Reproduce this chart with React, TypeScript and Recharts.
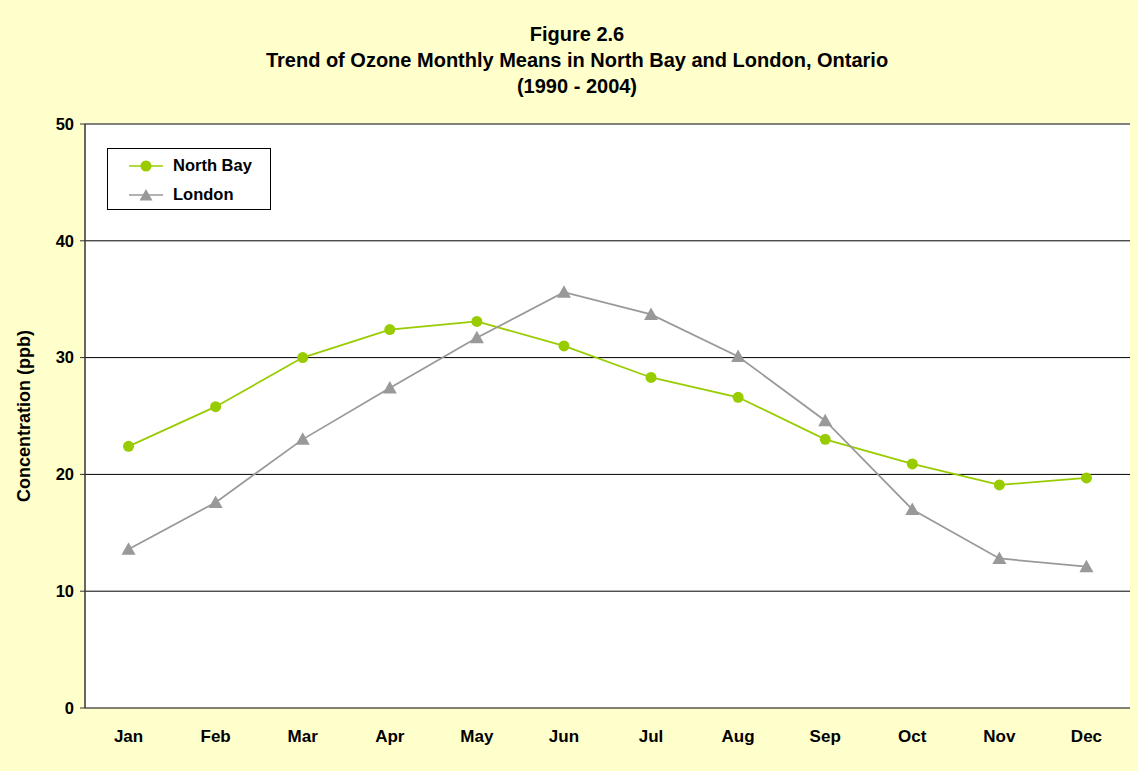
import React from 'react'
import {
  LineChart, Line, XAxis, YAxis, CartesianGrid, ReferenceLine,
} from 'recharts'

const months = ['Jan', 'Feb', 'Mar', 'Apr', 'May', 'Jun', 'Jul', 'Aug', 'Sep', 'Oct', 'Nov', 'Dec']
const northBay = [22.4, 25.8, 30.0, 32.4, 33.1, 31.0, 28.3, 26.6, 23.0, 20.9, 19.1, 19.7]
const london = [13.6, 17.6, 23.0, 27.4, 31.7, 35.6, 33.7, 30.1, 24.6, 17.0, 12.8, 12.1]
const yTicks = [0, 10, 20, 30, 40, 50]
const boundaryTicks = [0, 1, 2, 3, 4, 5, 6, 7, 8, 9, 10, 11, 12]

const data = months.map((month, i) => ({ month, northBay: northBay[i], london: london[i] }))

const FONT = 'Arial, "Liberation Sans", Helvetica, sans-serif'
const GREEN = '#99CC00'
const GREY = '#999999'

function Triangle(props: any) {
  const { cx, cy } = props
  if (cx == null || cy == null) return null
  return <path d={`M${cx},${cy - 7} L${cx + 7},${cy + 5.5} L${cx - 7},${cy + 5.5} Z`} fill={GREY} />
}

function LegendBox() {
  const row = (color: string, label: string, marker: React.ReactNode) => (
    <div style={{ display: 'flex', alignItems: 'center', height: 29 }}>
      <svg width={38} height={14} style={{ marginRight: 8 }}>
        <line x1={2} y1={7} x2={36} y2={7} stroke={color} strokeWidth={1.5} />
        {marker}
      </svg>
      <span>{label}</span>
    </div>
  )
  return (
    <div style={{
      position: 'absolute', top: 148, left: 107, zIndex: 2,
      border: '1px solid #000', background: '#fff', width: 164, height: 62, boxSizing: 'border-box',
      padding: '2px 0 0 19px', fontFamily: FONT, fontWeight: 'bold', fontSize: 16.5, color: '#000',
    }}>
      {row(GREEN, 'North Bay', <circle cx={19} cy={7} r={5.5} fill={GREEN} />)}
      {row(GREY, 'London', <path d="M19,1 L25.5,12.5 L12.5,12.5 Z" fill={GREY} />)}
    </div>
  )
}

export default function App() {
  return (
    <div style={{ position: 'relative', width: 1138, height: 771, background: '#FFFFCC' }}>
      <style>{'body{margin:0}'}</style>
      <div style={{
        position: 'absolute', top: 21, left: 8, width: 1138, textAlign: 'center',
        fontFamily: FONT, fontWeight: 'bold', fontSize: 20, lineHeight: '26px', color: '#000',
      }}>
        <div>Figure 2.6</div>
        <div>Trend of Ozone Monthly Means in North Bay and London, Ontario</div>
        <div>(1990 - 2004)</div>
      </div>
      <LineChart
        width={1138}
        height={771}
        data={data}
        margin={{ top: 124, right: 8, left: 0, bottom: 33 }}
        style={{ position: 'absolute', top: 0, left: 0 }}
      >
        <CartesianGrid vertical={false} stroke="#000" fill="#fff" fillOpacity={1} />
        <XAxis
          dataKey="month"
          scale="band"
          height={30}
          tickLine={false}
          axisLine={false}
          tick={{ fill: '#000', fontSize: 17, fontWeight: 'bold', fontFamily: FONT }}
          dy={14}
        />
        <XAxis
          xAxisId="b"
          type="number"
          domain={[0, 12]}
          ticks={boundaryTicks}
          height={0}
          tick={false}
          tickSize={5}
          tickLine={{ stroke: '#333' }}
          axisLine={{ stroke: '#333', strokeWidth: 1.5 }}
        />
        <YAxis
          width={85}
          domain={[0, 50]}
          ticks={yTicks}
          interval={0}
          tickSize={5}
          tickMargin={6}
          tickLine={{ stroke: '#333' }}
          axisLine={{ stroke: '#333', strokeWidth: 1.5 }}
          tick={{ fill: '#000', fontSize: 16.5, fontWeight: 'bold', fontFamily: FONT }}
          label={{
            value: 'Concentration (ppb)', angle: -90, position: 'insideLeft', offset: 24,
            style: { textAnchor: 'middle', fill: '#000', fontSize: 18, fontWeight: 'bold', fontFamily: FONT },
          }}
        />
        <YAxis
          yAxisId="r"
          orientation="right"
          width={0}
          domain={[0, 50]}
          tick={false}
          tickLine={false}
          axisLine={{ stroke: '#999', strokeWidth: 3 }}
        />
        <ReferenceLine y={50} stroke="#808080" strokeWidth={1.5} />
        <Line
          type="linear"
          dataKey="northBay"
          name="North Bay"
          stroke={GREEN}
          strokeWidth={1.75}
          dot={{ r: 5.5, fill: GREEN, stroke: GREEN, strokeWidth: 0 }}
          activeDot={false}
          isAnimationActive={false}
        />
        <Line
          type="linear"
          dataKey="london"
          name="London"
          stroke={GREY}
          strokeWidth={1.75}
          dot={<Triangle />}
          activeDot={false}
          isAnimationActive={false}
        />
      </LineChart>
      <LegendBox />
    </div>
  )
}
